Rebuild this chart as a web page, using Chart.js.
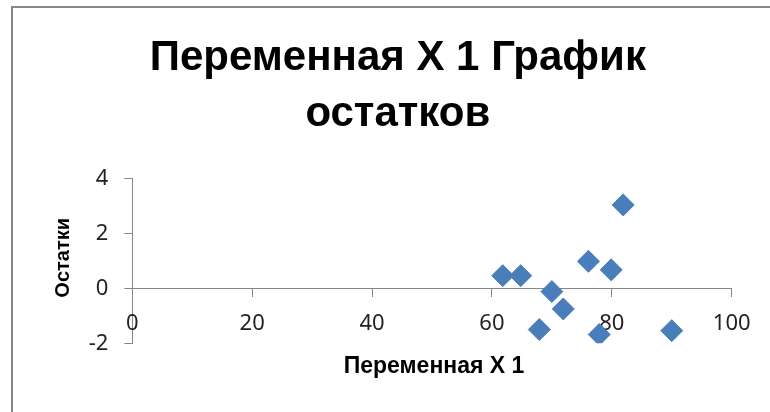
<!DOCTYPE html>
<html lang="ru">
<head>
    <meta charset="UTF-8">
    <title>Переменная X 1 График остатков</title>
    <script src="https://cdn.jsdelivr.net/npm/chart.js"></script>
    <style>
        html, body {
            margin: 0;
            padding: 0;
            width: 770px;
            height: 412px;
            overflow: hidden;
            background: #fff;
        }
        #frame {
            position: absolute;
            left: 11px;
            top: 6px;
            width: 800px;
            height: 450px;
            border: 2px solid #868686;
        }
        #residChart {
            position: absolute;
            left: 0;
            top: 0;
        }
    </style>
</head>
<body>
    <div id="frame"></div>
    <canvas id="residChart" width="770" height="412"></canvas>

    <script>
        // chart texts
        const titleLines = ['Переменная X 1 График', 'остатков'];
        const xTitle = 'Переменная X 1';
        const yTitle = 'Остатки';

        // residual points
        const xValues = [61.8, 64.8, 70.0, 71.9, 67.9, 76.1, 79.9, 81.9, 77.9, 90.0];
        const residuals = [0.46, 0.46, -0.12, -0.75, -1.50, 0.98, 0.67, 3.03, -1.68, -1.54];

        // axis ticks
        const xTicks = [0, 20, 40, 60, 80, 100];
        const yTicks = [-2, 0, 2, 4];

        const axisGray = '#868686';
        const pointBlue = '#4A7EBB';

        Chart.defaults.font.family = '"Liberation Sans", Arial, sans-serif';

        // axis titles, Excel style: x title hangs under the zero line
        const axisTitles = {
            id: 'axisTitles',
            afterDraw(chart) {
                const { ctx, chartArea, scales } = chart;
                const zeroY = scales.y.getPixelForValue(0);
                ctx.save();
                ctx.fillStyle = '#000';
                ctx.textAlign = 'center';
                ctx.textBaseline = 'middle';
                ctx.font = 'bold 23px "Liberation Sans"';
                ctx.fillText(xTitle, (chartArea.left + chartArea.right) / 2 + 2, zeroY + 78);
                ctx.translate(63, (chartArea.top + chartArea.bottom) / 2 - 3);
                ctx.rotate(-Math.PI / 2);
                ctx.font = 'bold 20px "Liberation Sans"';
                ctx.fillText(yTitle, 0, 0);
                ctx.restore();
            }
        };

        const points = xValues.map((x, i) => ({ x: x, y: residuals[i] }));

        new Chart(document.getElementById('residChart'), {
            type: 'scatter',
            data: {
                datasets: [{
                    label: yTitle,
                    data: points,
                    pointStyle: 'rectRot',
                    pointRadius: 11,
                    pointHoverRadius: 11,
                    backgroundColor: pointBlue,
                    borderColor: pointBlue,
                    borderWidth: 1
                }]
            },
            options: {
                responsive: false,
                animation: false,
                devicePixelRatio: 1,
                layout: {
                    // the x axis sits on y = 0 and reserves no room, so the bottom is kept here
                    padding: { top: 0, right: 38.3, bottom: 68.7, left: 64 }
                },
                plugins: {
                    legend: { display: false },
                    tooltip: { enabled: false },
                    title: {
                        display: true,
                        text: titleLines,
                        color: '#000',
                        font: { size: 42, weight: 'bold', lineHeight: 1.333 },
                        padding: { top: 30.5, bottom: 35.8 }
                    }
                },
                scales: {
                    y: {
                        type: 'linear',
                        position: 'left',
                        min: yTicks[0],
                        max: yTicks[yTicks.length - 1],
                        afterFit(scale) { scale.width = 68.3; },
                        ticks: {
                            stepSize: yTicks[1] - yTicks[0],
                            padding: 16,
                            color: '#222',
                            font: { family: '"Noto Sans"', size: 22 }
                        },
                        grid: {
                            drawOnChartArea: false,
                            drawTicks: true,
                            tickLength: 8,
                            color: axisGray
                        },
                        border: { display: true, color: axisGray, width: 1 }
                    },
                    x: {
                        type: 'linear',
                        position: { y: 0 },
                        min: xTicks[0],
                        max: xTicks[xTicks.length - 1],
                        ticks: {
                            stepSize: xTicks[1] - xTicks[0],
                            padding: 14.5,
                            maxRotation: 0,
                            color: '#222',
                            font: { family: '"Noto Sans"', size: 22 }
                        },
                        grid: {
                            drawOnChartArea: false,
                            drawTicks: true,
                            tickLength: 8,
                            color: axisGray
                        },
                        border: { display: true, color: axisGray, width: 1 }
                    }
                }
            },
            plugins: [axisTitles]
        });
    </script>
</body>
</html>
